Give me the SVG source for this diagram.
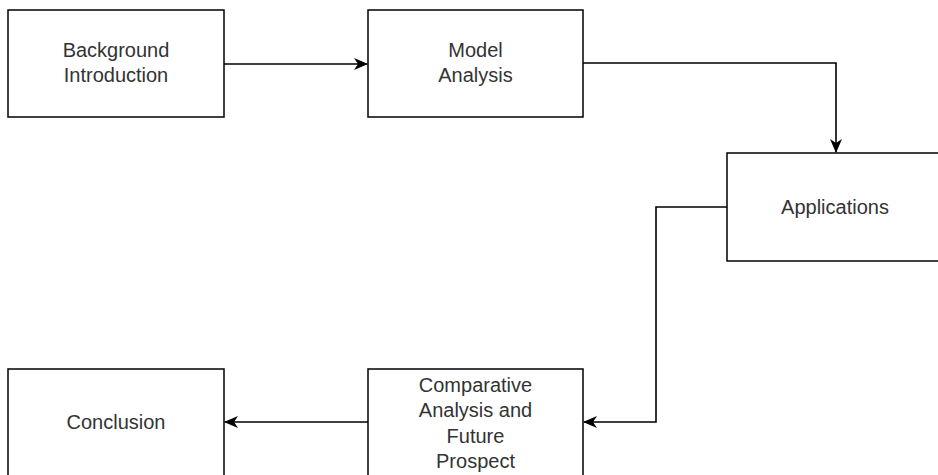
<svg xmlns="http://www.w3.org/2000/svg" width="938" height="475" viewBox="0 0 938 475">
<style>
.box{fill:#fff;stroke:#000;stroke-width:1.5}
.lbl{font-family:"Liberation Sans",Arial,sans-serif;font-size:20px;fill:#333;text-anchor:middle}
.edge{fill:none;stroke:#000;stroke-width:1.6}
</style>
<defs>
<marker id="ah" viewBox="0 0 14 14" refX="13" refY="7" markerWidth="14" markerHeight="14" markerUnits="userSpaceOnUse" orient="auto">
<path d="M0,1 L14,7 L0,13 L4,7 Z" fill="#000"/>
</marker>
</defs>
<rect width="938" height="475" fill="#fff"/>
<g id="n-background">
<rect class="box" x="8" y="10" width="216" height="107"/>
<text class="lbl" x="116" y="57">Background</text>
<text class="lbl" x="116" y="82">Introduction</text>
</g>
<g id="n-model">
<rect class="box" x="368" y="10" width="215" height="107"/>
<text class="lbl" x="475.5" y="57">Model</text>
<text class="lbl" x="475.5" y="82">Analysis</text>
</g>
<g id="n-applications">
<rect class="box" x="727" y="153" width="216" height="108"/>
<text class="lbl" x="835" y="214">Applications</text>
</g>
<g id="n-comparative">
<rect class="box" x="368" y="369" width="215" height="110"/>
<text class="lbl" x="475.5" y="392">Comparative</text>
<text class="lbl" x="475.5" y="417">Analysis and</text>
<text class="lbl" x="475.5" y="443">Future</text>
<text class="lbl" x="475.5" y="468">Prospect</text>
</g>
<g id="n-conclusion">
<rect class="box" x="8" y="369" width="216" height="110"/>
<text class="lbl" x="116" y="429">Conclusion</text>
</g>
<g id="connectors">
<path class="edge" d="M224,64 H367" marker-end="url(#ah)"/>
<path class="edge" d="M583,63 H836 V152" marker-end="url(#ah)"/>
<path class="edge" d="M727,207 H656 V422 H584" marker-end="url(#ah)"/>
<path class="edge" d="M368,422 H225" marker-end="url(#ah)"/>
</g>
</svg>
